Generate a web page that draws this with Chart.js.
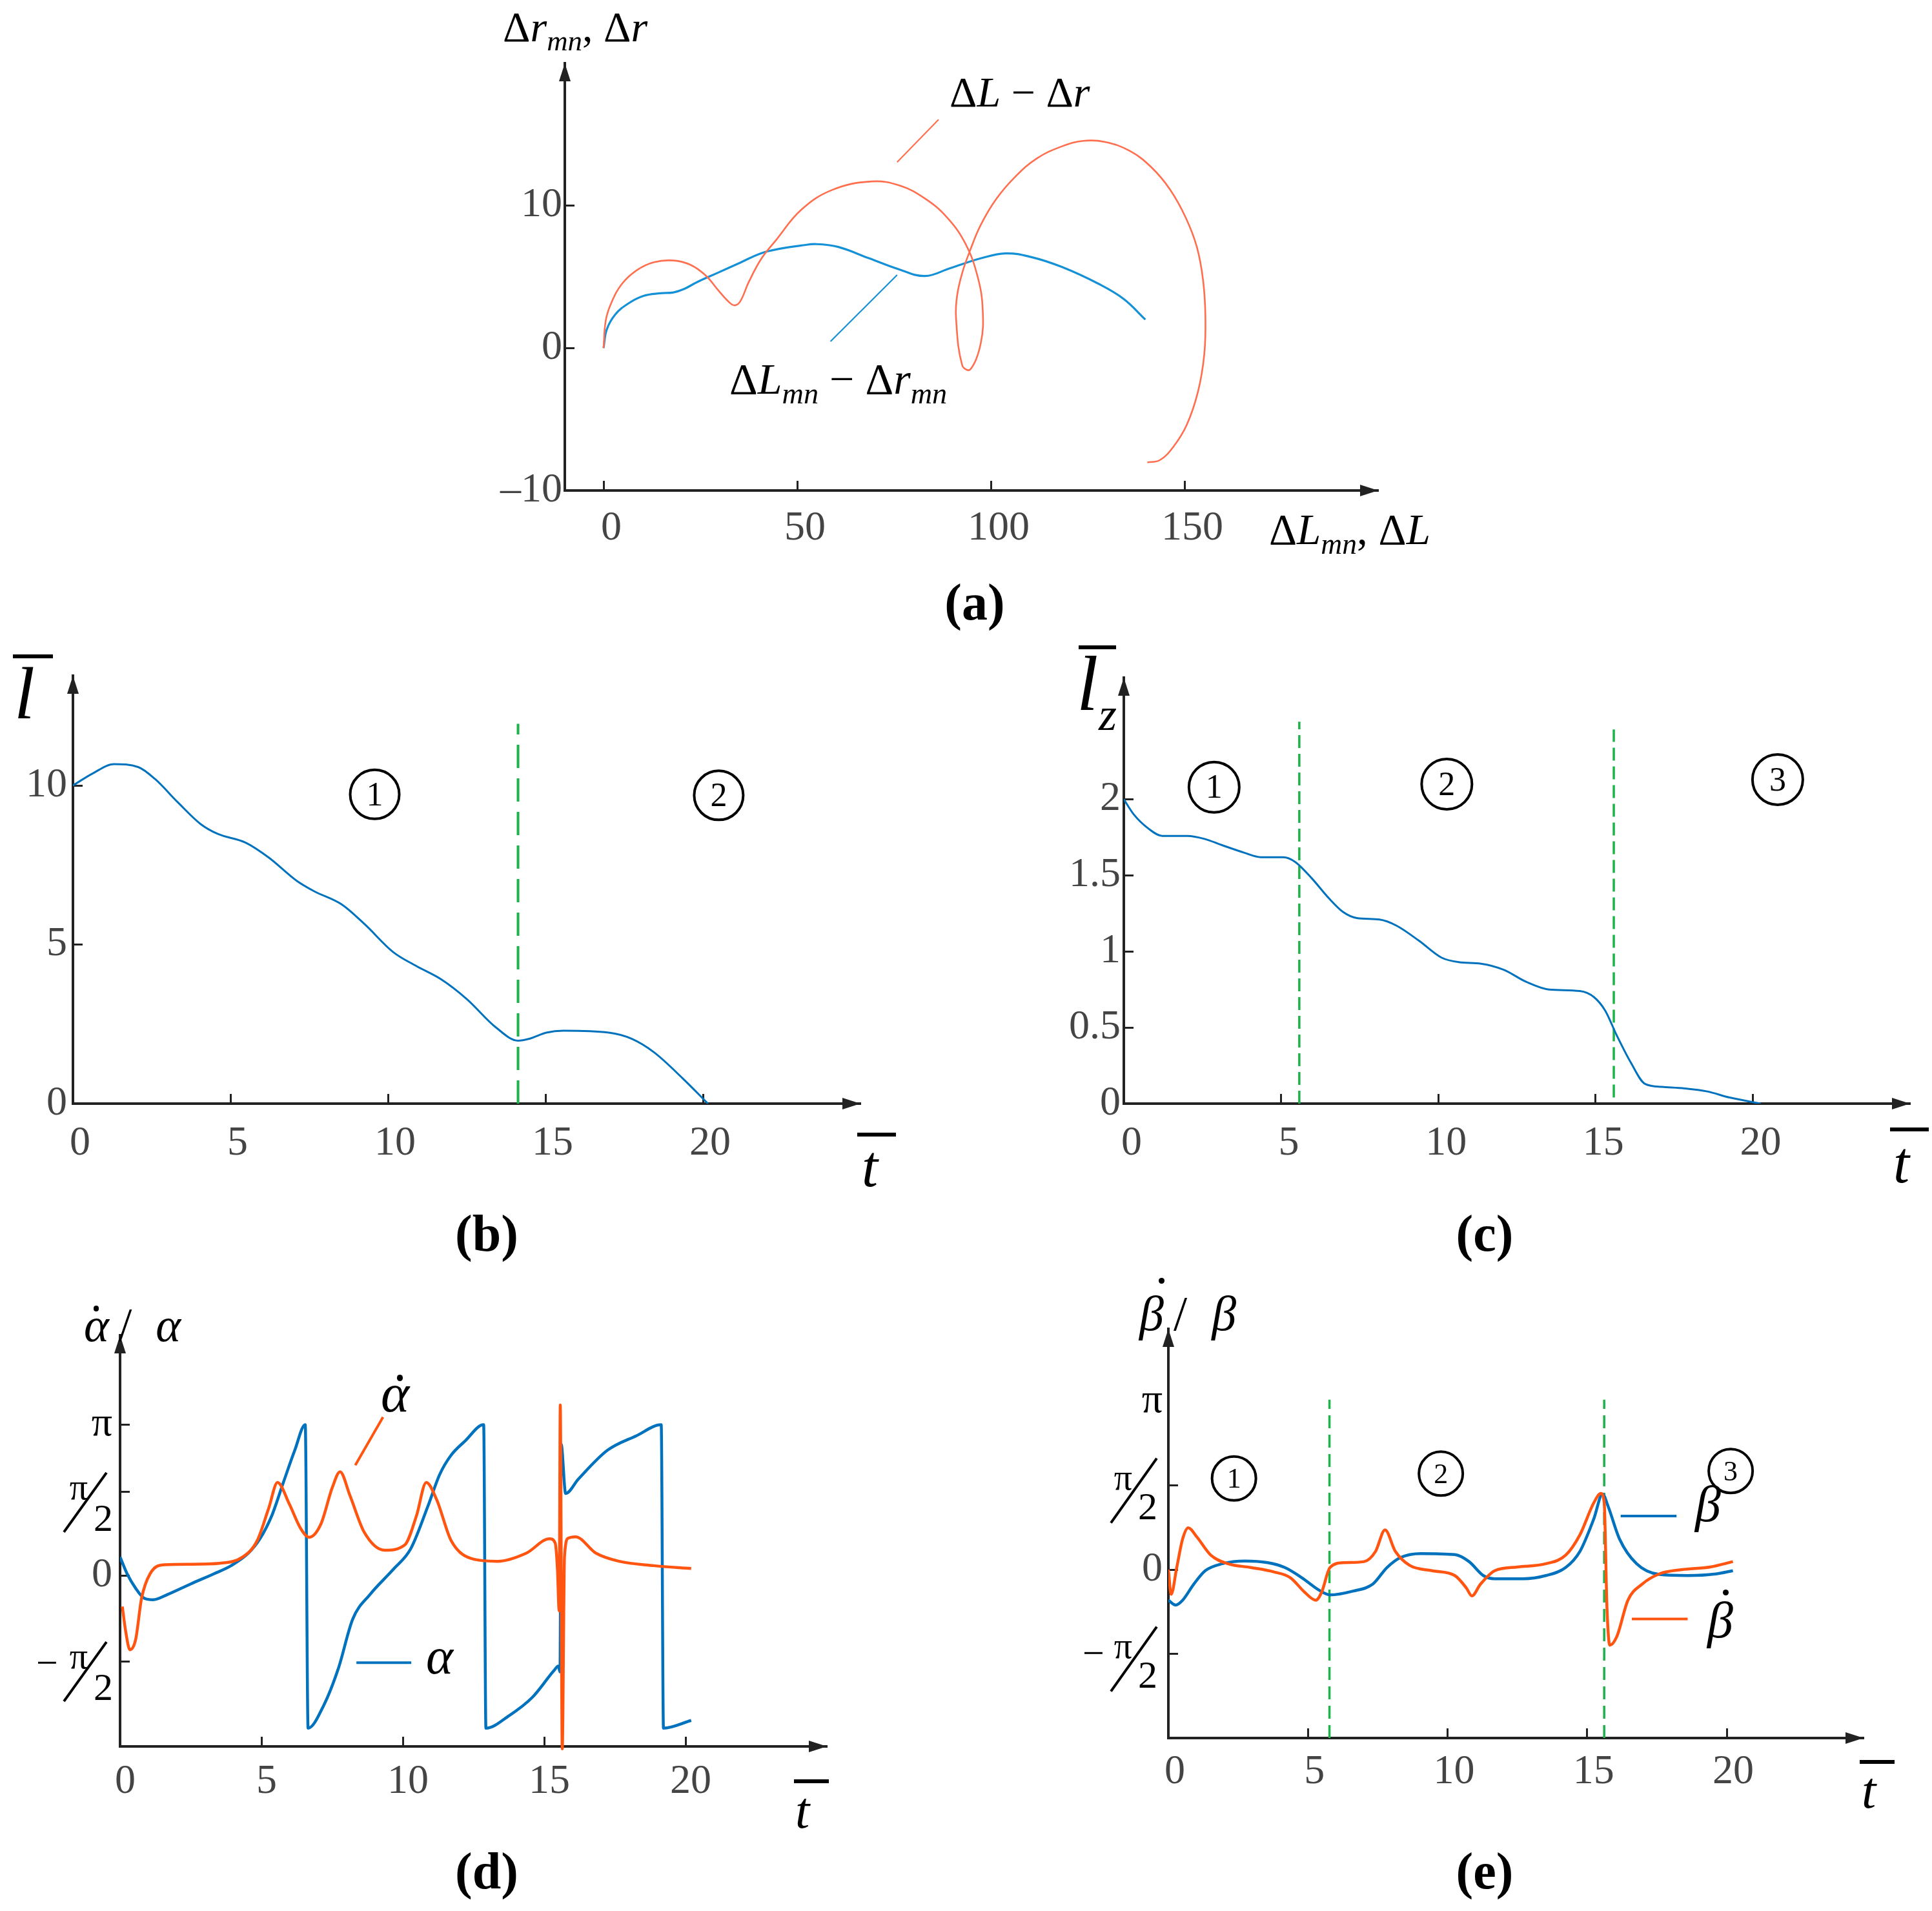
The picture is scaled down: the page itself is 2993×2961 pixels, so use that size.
<!DOCTYPE html>
<html>
<head>
<meta charset="utf-8">
<title>Trajectory curves (a)-(e)</title>
<script src="https://cdn.jsdelivr.net/npm/chart.js@4.4.1/dist/chart.umd.min.js"></script>
<style>
  html, body { margin: 0; padding: 0; background: #fff; }
  body { position: relative; width: 2993px; height: 2961px; overflow: hidden; font-family: "Liberation Serif", "Times New Roman", serif; }
  canvas { position: absolute; }
  .t { position: absolute; white-space: nowrap; line-height: 1; color: #000; }
  .t i { font-style: italic; }
  .t sub { font-size: 0.68em; vertical-align: -0.32em; line-height: 0; font-style: italic; }
  .cap { font-weight: bold; transform: translateX(-50%); }
  .bar { position: absolute; background: #000; height: 6px; }
  .dt { position: relative; display: inline-block; font-style: italic; }
  .dt::before { content: ""; position: absolute; width: 0.11em; height: 0.11em; border-radius: 50%; background: #000; left: var(--dx); top: var(--dy); }
</style>
</head>
<body>
<canvas id="pa"></canvas>
<canvas id="pb"></canvas>
<canvas id="pc"></canvas>
<canvas id="pd"></canvas>
<canvas id="pe"></canvas>

<!-- panel (a) -->
<div class="t" style="left:779px;top:9px;font-size:66px">Δ<i>r</i><sub>mn</sub>, Δ<i>r</i></div>
<div class="t" style="left:1966px;top:787px;font-size:67px">Δ<i>L</i><sub>mn</sub>, Δ<i>L</i></div>
<div class="t" style="left:1471px;top:110px;font-size:66px">Δ<i>L</i> − Δ<i>r</i></div>
<div class="t" style="left:1130px;top:553px;font-size:68px">Δ<i>L</i><sub>mn</sub> − Δ<i>r</i><sub>mn</sub></div>
<div class="t cap" style="left:1510px;top:893px;font-size:80px">(a)</div>

<!-- panel (b) -->
<div class="bar" style="left:20px;top:1014px;width:62px"></div>
<div class="t" style="left:22px;top:1017px;font-size:115px"><i>l</i></div>
<div class="bar" style="left:1328px;top:1755px;width:60px"></div>
<div class="t" style="left:1335px;top:1763px;font-size:90px"><i>t</i></div>
<div class="t cap" style="left:754px;top:1871px;font-size:80px">(b)</div>

<!-- panel (c) -->
<div class="bar" style="left:1671px;top:1000px;width:58px"></div>
<div class="t" style="left:1668px;top:1000px;font-size:120px"><i>l</i></div>
<div class="t" style="left:1702px;top:1071px;font-size:72px"><i>z</i></div>
<div class="bar" style="left:2928px;top:1747px;width:60px"></div>
<div class="t" style="left:2933px;top:1757px;font-size:90px"><i>t</i></div>
<div class="t cap" style="left:2300px;top:1871px;font-size:80px">(c)</div>

<!-- panel (d) -->
<div class="t" style="left:130px;top:2016px;font-size:74px"><span class="dt" style="--dx:.2em;--dy:.1em">α</span>&thinsp;/&ensp;<i>α</i></div>
<div class="bar" style="left:1230px;top:2757px;width:54px"></div>
<div class="t" style="left:1232px;top:2765px;font-size:80px"><i>t</i></div>
<div class="t" style="left:590px;top:2117px;font-size:84px"><span class="dt" style="--dx:.3em;--dy:.16em">α</span></div>
<div class="t" style="left:660px;top:2526px;font-size:80px"><i>α</i></div>
<div class="t cap" style="left:754px;top:2859px;font-size:80px">(d)</div>

<!-- panel (e) -->
<div class="t" style="left:1765px;top:1997px;font-size:76px"><span class="dt" style="--dx:.4em;--dy:-.22em">β</span>&thinsp;/&ensp;<i>β</i></div>
<div class="bar" style="left:2881px;top:2727px;width:54px"></div>
<div class="t" style="left:2884px;top:2734px;font-size:80px"><i>t</i></div>
<div class="t" style="left:2626px;top:2290px;font-size:80px"><i>β</i></div>
<div class="t" style="left:2645px;top:2470px;font-size:80px"><span class="dt" style="--dx:.3em;--dy:-.09em">β</span></div>
<div class="t cap" style="left:2300px;top:2859px;font-size:80px">(e)</div>

<script>
// ---------- data ----------
// (a) ΔLmn - Δrmn (blue) and ΔL - Δr (orange), parametric curves
const aBlueX = [0, 0.83, 3.06, 6.4, 10.3, 14.7, 18.05, 20.8, 24.2, 29.7, 35.3, 40.8, 46, 51, 55, 60.6, 68.6, 76.6, 83, 89.4, 97.4, 103.8, 110.3, 118.3, 127.9, 134.3, 139.9];
const aBlueY = [0, 1.3, 2.37, 3.13, 3.66, 3.85, 3.91, 4.15, 4.64, 5.31, 6.0, 6.67, 7.0, 7.2, 7.3, 7.1, 6.3, 5.5, 5.06, 5.6, 6.3, 6.65, 6.4, 5.7, 4.5, 3.45, 2.0];
const aOrangeX = [0, 0.56, 1.94, 4.7, 8.6, 13.05, 18.05, 22.5, 26.4, 29.7, 32.5, 33.9, 35.3, 37.5, 40.8, 44.6, 51, 59, 69.2, 76.6, 83, 88.6, 93.4, 96.6, 97.9, 97.4, 94.7, 92.6, 91.0, 91.3, 92.6, 94.6, 97.4, 101.4, 106.3, 111.9, 118.3, 123.9, 129.5, 135.9, 141.5, 146.3, 150.3, 153.2, 154.8, 155.4, 155.1, 153.5, 150.6, 147.1, 143.6, 140.4];
const aOrangeY = [0, 1.92, 3.13, 4.49, 5.47, 6.03, 6.15, 5.84, 5.09, 4.03, 3.2, 3.0, 3.28, 4.64, 6.3, 7.6, 9.7, 11.1, 11.7, 11.4, 10.5, 9.2, 7.35, 5.0, 2.7, 0.34, -1.5, -1.2, 2.15, 3.71, 5.27, 6.83, 8.65, 10.47, 12.03, 13.32, 14.16, 14.55, 14.47, 13.84, 12.68, 11.12, 9.17, 7.09, 4.75, 2.16, -0.44, -3.04, -5.38, -6.94, -7.87, -8.03];
const aLeadOrange = { x: [75.8, 86.5], y: [13.06, 16.05] };
const aLeadBlue = { x: [58.6, 75.8], y: [0.47, 5.14] };
const aTicksX = [0, 50, 100, 150], aLabelsX = ['0', '50', '100', '150'];
const aTicksY = [-10, 0, 10], aLabelsY = ['–10', '0', '10'];

// (b) l(t)
const bX = [0, 0.63, 1.3, 2.07, 2.61, 3.33, 4.05, 4.59, 5.49, 6.21, 7.11, 7.65, 8.55, 9.27, 10.17, 10.89, 11.7, 12.51, 13.41, 14.13, 14.49, 15.03, 15.57, 17.01, 17.73, 18.45, 19.35, 20.16];
const bY = [10.0, 10.38, 10.67, 10.58, 10.2, 9.47, 8.79, 8.48, 8.2, 7.74, 7.0, 6.68, 6.25, 5.63, 4.76, 4.33, 3.9, 3.28, 2.41, 1.98, 2.04, 2.23, 2.29, 2.23, 2.04, 1.61, 0.8, 0];
const bSplits = [14.13], bSplitTop = 11.94;
const bStages = [{ x: 9.58, y: 9.72, n: '1' }, { x: 20.5, y: 9.69, n: '2' }];
const tTicks = [0, 5, 10, 15, 20], tLabels = ['0', '5', '10', '15', '20'];
const bTicksY = [0, 5, 10], bLabelsY = ['0', '5', '10'];

// (c) lz(t)
const cX = [0, 0.32, 0.77, 1.22, 2.03, 2.57, 3.11, 3.82, 4.36, 5.08, 5.44, 5.98, 6.52, 6.97, 7.41, 8.13, 8.67, 9.39, 10.1, 10.65, 11.36, 12.08, 12.8, 13.52, 14.5, 14.95, 15.31, 15.67, 16.12, 16.57, 17.11, 17.83, 18.55, 19.26, 20.25];
const cY = [2.0, 1.9, 1.81, 1.76, 1.76, 1.74, 1.70, 1.65, 1.62, 1.62, 1.59, 1.48, 1.35, 1.26, 1.22, 1.21, 1.17, 1.07, 0.96, 0.93, 0.92, 0.88, 0.80, 0.75, 0.74, 0.70, 0.61, 0.45, 0.27, 0.13, 0.11, 0.10, 0.08, 0.04, 0];
const cSplits = [{ x: 5.58, y0: 0, y1: 2.51 }, { x: 15.58, y0: 0.04, y1: 2.46 }];
const cStages = [{ x: 2.87, y: 2.08, n: '1' }, { x: 10.27, y: 2.10, n: '2' }, { x: 20.79, y: 2.13, n: '3' }];
const cTicksY = [0, 0.5, 1, 1.5, 2], cLabelsY = ['0', '0.5', '1', '1.5', '2'];

// (d) alpha and alpha-dot
const dAlphaX = [0, 0.25, 0.55, 0.86, 1.17, 1.68, 2.5, 3.32, 3.93, 4.54, 4.95, 5.36, 5.77, 6.18, 6.55, 6.65, 7.2, 7.72, 8.23, 8.84, 9.66, 10.28, 10.89, 11.3, 11.7, 12.2, 12.86, 12.94, 13.76, 14.58, 15.35, 15.5, 15.56, 15.6, 15.76, 16.21, 17.24, 18.26, 19.14, 19.22, 20.2];
const dAlphaY = [0.39, 0.04, -0.26, -0.47, -0.50, -0.39, -0.17, 0.04, 0.21, 0.47, 0.77, 1.24, 1.93, 2.61, 3.14, -3.17, -2.70, -1.93, -0.90, -0.39, 0.13, 0.56, 1.45, 2.1, 2.5, 2.8, 3.14, -3.17, -2.91, -2.53, -1.97, -1.88, -2.0, 2.74, 1.71, 2.01, 2.61, 2.91, 3.14, -3.17, -3.01];
const dRateX = [0.08, 0.2, 0.35, 0.55, 0.76, 1.06, 1.58, 2.5, 3.52, 4.34, 4.85, 5.26, 5.57, 5.98, 6.39, 6.69, 7.1, 7.51, 7.78, 8.13, 8.64, 9.36, 10.07, 10.48, 10.83, 11.2, 11.71, 12.53, 13.35, 14.37, 15.19, 15.39, 15.47, 15.53, 15.57, 15.64, 15.72, 15.85, 16.11, 16.83, 17.65, 18.87, 20.2];
const dRateY = [-0.64, -1.16, -1.54, -1.33, -0.47, 0.04, 0.23, 0.24, 0.26, 0.39, 0.73, 1.41, 1.94, 1.50, 0.98, 0.80, 1.07, 1.84, 2.16, 1.67, 0.90, 0.53, 0.64, 1.24, 1.94, 1.58, 0.73, 0.34, 0.30, 0.47, 0.77, 0.68, 0.13, -0.73, 3.55, -3.6, 0.4, 0.78, 0.81, 0.47, 0.30, 0.21, 0.15];
const dLeadRate = { x: [8.32, 9.3], y: [2.3, 3.3] };
const dKeyAlpha = { x: [8.36, 10.3], y: [-1.81, -1.81] };
const dTicksY = [Math.PI, 1.74, 0, -1.78], dLabelsY = ['π', 'π/2', '0', '−π/2'];

// (e) beta and beta-dot
const eBetaX = [0, 0.26, 0.51, 0.91, 1.32, 1.93, 2.74, 3.56, 4.17, 4.78, 5.39, 5.79, 6.61, 7.32, 7.83, 8.33, 9.04, 10.26, 10.77, 11.28, 11.69, 12.7, 13.52, 14.23, 14.74, 15.24, 15.55, 15.75, 16.16, 16.77, 17.58, 18.6, 19.61, 20.22];
const eBetaY = [-0.57, -0.66, -0.57, -0.27, -0.02, 0.11, 0.16, 0.13, 0.04, -0.15, -0.38, -0.47, -0.40, -0.27, 0.04, 0.23, 0.30, 0.28, 0.15, -0.11, -0.17, -0.17, -0.11, 0.04, 0.34, 0.95, 1.41, 1.18, 0.57, 0.11, -0.09, -0.11, -0.08, -0.02];
const eRateX = [0, 0.1, 0.3, 0.51, 0.71, 1.02, 1.52, 2.13, 2.95, 3.76, 4.37, 4.88, 5.28, 5.49, 5.79, 6.3, 7.01, 7.42, 7.76, 8.13, 8.64, 9.45, 10.26, 10.67, 10.87, 11.18, 11.69, 12.5, 13.52, 14.23, 14.74, 15.24, 15.49, 15.61, 15.71, 15.81, 16.06, 16.46, 16.97, 17.58, 18.39, 19.41, 20.22];
const eRateY = [0, -0.46, 0.04, 0.57, 0.78, 0.61, 0.27, 0.11, 0.04, -0.04, -0.15, -0.42, -0.57, -0.42, 0.04, 0.13, 0.15, 0.34, 0.74, 0.34, 0.08, -0.02, -0.11, -0.34, -0.49, -0.27, -0.02, 0.05, 0.11, 0.27, 0.65, 1.25, 1.42, 1.25, -0.72, -1.41, -1.25, -0.57, -0.27, -0.08, 0, 0.05, 0.15];
const eSplits = [5.77, 15.61], eSplitRange = [-3.14, 3.17];
const eStages = [{ x: 2.35, y: 1.70, n: '1' }, { x: 9.76, y: 1.79, n: '2' }, { x: 20.14, y: 1.84, n: '3' }];
const eKeyBeta = { x: [16.2, 18.2], y: [1.0, 1.0] };
const eKeyRate = { x: [16.6, 18.6], y: [-0.92, -0.92] };
const eTicksY = [Math.PI, Math.PI / 2, 0, -Math.PI / 2], eLabelsY = ['π', 'π/2', '0', '−π/2'];

// ---------- styling ----------
const AXIS = '#222';
const TICK_TXT = '#444';
const BLUE = '#0072BD', ORANGE = '#FF5511', GREEN = '#1DB34A';
const BLUE_A = '#1491D6', ORANGE_A = '#FF6F4F';
const PAD_L = 200, PAD_T = 90, PAD_R = 20, PAD_B = 130;

const pts = (xs, ys) => xs.map((x, i) => ({ x: x, y: ys[i] }));

function curve(xs, ys, color, width, extra) {
  return Object.assign({
    data: pts(xs, ys), borderColor: color, borderWidth: width,
    pointRadius: 0, fill: false, cubicInterpolationMode: 'monotone'
  }, extra || {});
}
function segment(seg, color, width, dash) {
  return { data: pts(seg.x, seg.y), borderColor: color, borderWidth: width, pointRadius: 0, fill: false, tension: 0, borderDash: dash || [] };
}
function stageMarks(list, r) {
  return { data: list.map(s => ({ x: s.x, y: s.y })), showLine: false, pointRadius: r, pointBorderWidth: 4,
    pointBorderColor: '#000', pointBackgroundColor: 'rgba(0,0,0,0)', clip: false };
}

function axis(pos, min, max, vals, texts, o) {
  const horiz = pos === 'bottom';
  return {
    type: 'linear', position: pos, min: min, max: max,
    border: { display: true, color: AXIS, width: 4 },
    grid: { display: true, drawOnChartArea: false, drawTicks: true, tickLength: -15, tickWidth: 3,
      tickColor: o.tickColor || AXIS },
    ticks: {
      autoSkip: false, maxRotation: 0, minRotation: 0,
      padding: o.padding, labelOffset: horiz ? (o.labelOffset || 0) : 0,
      color: c => (texts[c.index] === 'π' ? '#000' : TICK_TXT),
      font: { family: 'Liberation Serif', size: o.size || 64 },
      callback: (v, i) => (texts[i].indexOf('/') >= 0 ? '' : texts[i])
    },
    afterBuildTicks: s => { s.ticks = vals.map(v => ({ value: v })); },
    afterFit: s => { if (horiz) s.height = PAD_B; else s.width = PAD_L; }
  };
}

// arrows, stage numbers, π/2 fraction labels
function decorations(cfg) {
  return {
    id: 'deco',
    afterDraw(chart) {
      const ctx = chart.ctx, a = chart.chartArea, xs = chart.scales.x, ys = chart.scales.y;
      ctx.save();
      ctx.fillStyle = AXIS;
      ctx.beginPath();
      ctx.moveTo(a.left, a.top); ctx.lineTo(a.left - 9, a.top + 28); ctx.lineTo(a.left + 9, a.top + 28);
      ctx.closePath(); ctx.fill();
      ctx.beginPath();
      ctx.moveTo(a.right, a.bottom); ctx.lineTo(a.right - 28, a.bottom - 9); ctx.lineTo(a.right - 28, a.bottom + 9);
      ctx.closePath(); ctx.fill();

      if (cfg.stages) {
        ctx.fillStyle = '#000';
        ctx.textAlign = 'center'; ctx.textBaseline = 'middle';
        ctx.font = cfg.stageFont + 'px "Liberation Serif"';
        cfg.stages.forEach(s => ctx.fillText(s.n, xs.getPixelForValue(s.x), ys.getPixelForValue(s.y) + 3));
      }
      if (cfg.frac) {
        const f = cfg.frac, ax = a.left;
        ctx.fillStyle = '#000'; ctx.strokeStyle = '#000'; ctx.lineWidth = 4;
        ctx.textAlign = 'center'; ctx.textBaseline = 'middle';
        f.vals.forEach((v, i) => {
          const y = ys.getPixelForValue(v);
          ctx.font = f.piSize + 'px "Liberation Serif"';
          ctx.fillText('π', ax + f.pi[0], y + f.pi[1]);
          ctx.beginPath();
          ctx.moveTo(ax + f.sl[0], y + f.sl[1]); ctx.lineTo(ax + f.sl[2], y + f.sl[3]);
          ctx.stroke();
          ctx.font = f.twoSize + 'px "Liberation Serif"';
          ctx.fillText('2', ax + f.two[0], y + f.two[1]);
          if (f.neg[i]) {
            ctx.font = f.twoSize + 'px "Liberation Serif"';
            ctx.fillText('−', ax + f.minus[0], y + f.minus[1]);
          }
        });
      }
      ctx.restore();
    }
  };
}

function makePanel(id, box, datasets, scales, cfg) {
  const cv = document.getElementById(id);
  const w = box.r - box.l + PAD_L + PAD_R, h = box.b - box.t + PAD_T + PAD_B;
  cv.width = w; cv.height = h;
  cv.style.width = w + 'px'; cv.style.height = h + 'px';
  cv.style.left = (box.l - PAD_L) + 'px'; cv.style.top = (box.t - PAD_T) + 'px';
  return new Chart(cv, {
    type: 'line',
    data: { datasets: datasets },
    options: {
      responsive: false, animation: false, devicePixelRatio: 1, events: [],
      layout: { padding: { left: 0, top: PAD_T, right: PAD_R, bottom: 0 } },
      plugins: { legend: { display: false }, tooltip: { enabled: false } },
      scales: scales
    },
    plugins: [decorations(cfg || {})]
  });
}

// (a)
makePanel('pa', { l: 875, t: 98, r: 2135, b: 760 }, [
  curve(aOrangeX, aOrangeY, ORANGE_A, 2.6, { cubicInterpolationMode: 'default', tension: 0.4 }),
  curve(aBlueX, aBlueY, BLUE_A, 3.2, { cubicInterpolationMode: 'default', tension: 0.4 }),
  segment(aLeadOrange, ORANGE_A, 2.2),
  segment(aLeadBlue, BLUE_A, 2.2)
], {
  x: axis('bottom', -10, 200, aTicksX, aLabelsX, { padding: 36, labelOffset: 12 }),
  y: axis('left', -10, 20, aTicksY, aLabelsY, { padding: 19 })
});

// (b)
makePanel('pb', { l: 113, t: 1047, r: 1355, b: 1710 }, [
  curve(bX, bY, BLUE, 3),
  ...bSplits.map(x => segment({ x: [x, x], y: [0, bSplitTop] }, GREEN, 4, [36, 16])),
  stageMarks(bStages, 38)
], {
  x: axis('bottom', 0, 25, tTicks, tLabels, { padding: 39, labelOffset: 11 }),
  y: axis('left', 0, 13.45, bTicksY, bLabelsY, { padding: 24 })
}, { stages: bStages, stageFont: 52 });

// (c)
makePanel('pc', { l: 1741, t: 1050, r: 2982, b: 1710 }, [
  curve(cX, cY, BLUE, 3),
  ...cSplits.map(s => segment({ x: [s.x, s.x], y: [s.y0, s.y1] }, GREEN, 3.5, [20, 9])),
  stageMarks(cStages, 39)
], {
  x: axis('bottom', 0, 25, tTicks, tLabels, { padding: 39, labelOffset: 12 }),
  y: axis('left', 0, 2.8, cTicksY, cLabelsY, { padding: 20 })
}, { stages: cStages, stageFont: 52 });

// (d)
makePanel('pd', { l: 186, t: 2069, r: 1281, b: 2706 }, [
  curve(dRateX, dRateY, ORANGE, 4.5, { clip: false }),
  curve(dAlphaX, dAlphaY, BLUE, 4.5),
  segment(dLeadRate, ORANGE, 4),
  segment(dKeyAlpha, BLUE, 4)
], {
  x: axis('bottom', 0, 25, tTicks, tLabels, { padding: 32, labelOffset: 8 }),
  y: axis('left', -3.55, 5.0, dTicksY, dLabelsY, { padding: 27 })
}, { frac: { vals: [1.74, -1.78], neg: [false, true], pi: [-64, -4], sl: [-87, 62, -21, -30], two: [-26, 44], minus: [-113, 6], piSize: 56, twoSize: 60 } });

// (e)
makePanel('pe', { l: 1810, t: 2059, r: 2905, b: 2693 }, [
  curve(eRateX, eRateY, ORANGE, 4.5),
  curve(eBetaX, eBetaY, BLUE, 4.5),
  ...eSplits.map(x => segment({ x: [x, x], y: eSplitRange }, GREEN, 3.5, [20, 10])),
  segment(eKeyBeta, BLUE, 4),
  segment(eKeyRate, ORANGE, 4),
  stageMarks(eStages, 34)
], {
  x: axis('bottom', 0, 24.9, tTicks, tLabels, { padding: 30, labelOffset: 10 }),
  y: axis('left', -3.14, 4.49, eTicksY, eLabelsY, { padding: 24,
    tickColor: c => (c.tick && Math.abs(c.tick.value - Math.PI) < 1e-6 ? 'rgba(0,0,0,0)' : AXIS) })
}, { stages: eStages, stageFont: 44, frac: { vals: [Math.PI / 2, -Math.PI / 2], neg: [false, true], pi: [-70, -8], sl: [-89, 58, -18, -42], two: [-32, 37], minus: [-116, 3], piSize: 56, twoSize: 60 } });
</script>
</body>
</html>
